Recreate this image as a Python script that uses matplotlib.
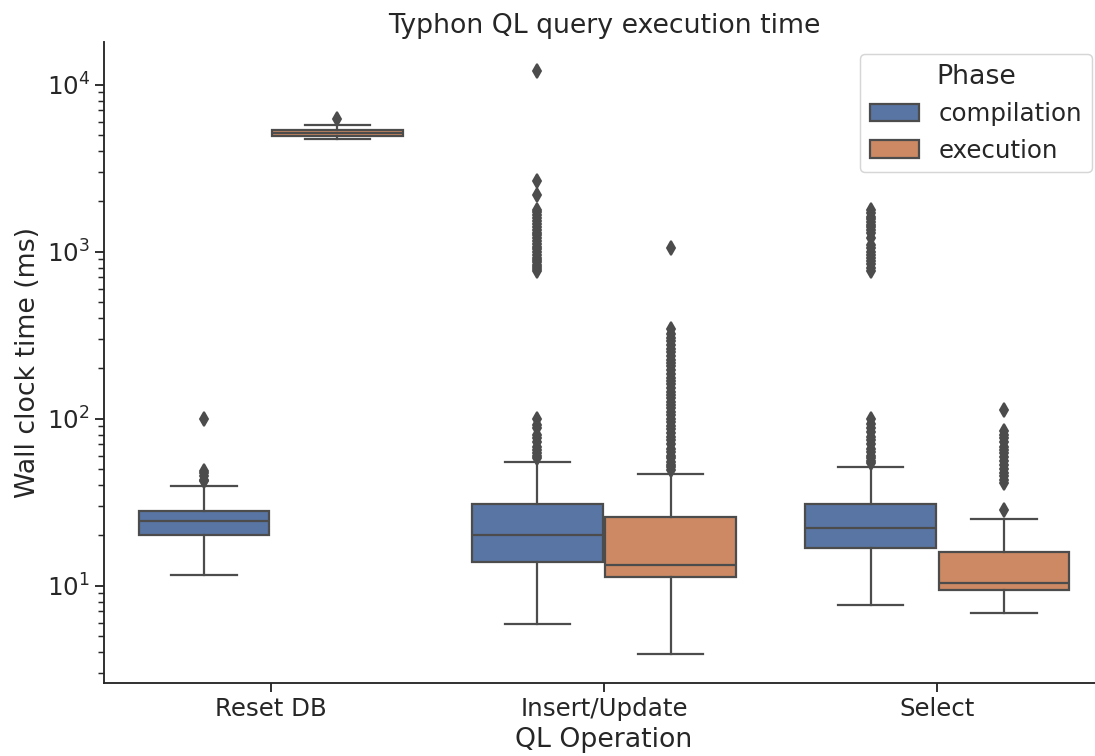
import matplotlib
matplotlib.use("Agg")
import matplotlib.pyplot as plt
from matplotlib.patches import Patch

# ---------------- data ----------------
operations = ["Reset DB", "Insert/Update", "Select"]
phases = ["compilation", "execution"]

# box statistics, indexed [operation][phase]
whisker_low = [[11.6, 4730], [5.87, 3.9], [7.7, 6.83]]
quartile_1 = [[20.1, 4890], [13.8, 11.2], [16.9, 9.35]]
medians = [[24.2, 5130], [20.1, 13.3], [22.2, 10.4]]
quartile_3 = [[28.1, 5360], [30.8, 25.9], [30.7, 15.8]]
whisker_high = [[39.2, 5760], [55.0, 46.7], [51.4, 25.2]]

fliers_reset_compilation = [42, 43, 45, 47, 48.5, 99]
fliers_reset_execution = [6250]
fliers_insert_compilation = [58, 60, 62, 65, 68, 72, 76, 80, 88, 92, 100,
                             770, 790, 810, 830, 860, 890, 920, 950, 990,
                             1030, 1070, 1110, 1150, 1200, 1250, 1300, 1350,
                             1400, 1460, 1520, 1580, 1650, 1720, 1780,
                             2195, 2660, 12030]
fliers_insert_execution = [49, 51, 53, 55, 58, 60, 63, 66, 70, 74, 78, 82,
                           86, 90, 95, 100, 105, 110, 115, 120, 125, 132,
                           138, 145, 152, 160, 168, 176, 185, 195, 205, 215,
                           225, 238, 250, 262, 275, 290, 305, 320, 345, 1054]
fliers_select_compilation = [54, 56, 58, 60, 63, 66, 70, 74, 78, 83, 88, 93,
                             99, 770, 800, 840, 880, 920, 960, 1000, 1050,
                             1100, 1200, 1300, 1350, 1400, 1450, 1500, 1560,
                             1620, 1700, 1780]
fliers_select_execution = [28.4, 41, 43, 45, 47, 50, 53, 56, 59, 62, 65, 68,
                           72, 76, 80, 84, 112]
fliers = [[fliers_reset_compilation, fliers_reset_execution],
          [fliers_insert_compilation, fliers_insert_execution],
          [fliers_select_compilation, fliers_select_execution]]

# ---------------- style ----------------
DPI = 107
plt.rcParams.update({
    "font.family": ["DejaVu Sans"],
    "text.color": "#262626",
    "axes.labelcolor": "#262626",
    "xtick.color": "#262626",
    "ytick.color": "#262626",
    "axes.edgecolor": "#262626",
    "axes.linewidth": 1.25,
    "xtick.major.width": 1.25,
    "ytick.major.width": 1.25,
    "ytick.minor.width": 1.0,
    "xtick.major.size": 6,
    "ytick.major.size": 6,
    "ytick.minor.size": 4,
    "xtick.labelsize": 16.5,
    "ytick.labelsize": 16.5,
    "axes.labelsize": 18,
    "axes.titlesize": 18,
    "legend.fontsize": 16.5,
    "legend.title_fontsize": 18,
})

box_colors = ["#5975a4", "#cc8963"]
line_gray = "#4c4c4c"
lw = 1.5

fig = plt.figure(figsize=(1095 / DPI, 756 / DPI), dpi=DPI)
ax = fig.add_axes([104 / 1095, 1 - 683 / 756, 1000 / 1095, (683 - 42) / 756])
ax.set_yscale("log")

box_width = 0.4 * 0.98
for j, phase in enumerate(phases):
    stats = []
    positions = []
    for i, op in enumerate(operations):
        stats.append({
            "whislo": whisker_low[i][j],
            "q1": quartile_1[i][j],
            "med": medians[i][j],
            "q3": quartile_3[i][j],
            "whishi": whisker_high[i][j],
            "fliers": fliers[i][j],
        })
        positions.append(i + (j - 0.5) * 0.4)
    ax.bxp(stats, positions=positions, widths=box_width, patch_artist=True,
           boxprops=dict(facecolor=box_colors[j], edgecolor=line_gray, linewidth=lw),
           whiskerprops=dict(color=line_gray, linewidth=lw),
           capprops=dict(color=line_gray, linewidth=lw),
           medianprops=dict(color=line_gray, linewidth=lw),
           flierprops=dict(marker="d", markerfacecolor=line_gray,
                           markeredgecolor=line_gray, markersize=6.5,
                           markeredgewidth=1.3, linestyle="none"),
           manage_ticks=False)

ax.set_xlim(-0.5, 2.5)
ax.set_xticks(range(len(operations)))
ax.set_xticklabels(operations)
ax.set_xlabel("QL Operation")
ax.set_ylabel("Wall clock time (ms)")
ax.set_title("Typhon QL query execution time")
ax.spines["top"].set_visible(False)
ax.spines["right"].set_visible(False)

handles = [Patch(facecolor=box_colors[j], edgecolor=line_gray, linewidth=lw,
                 label=phases[j]) for j in range(len(phases))]
ax.legend(handles=handles, title="Phase", loc="upper right")

fig.savefig("out.png", dpi=DPI)
